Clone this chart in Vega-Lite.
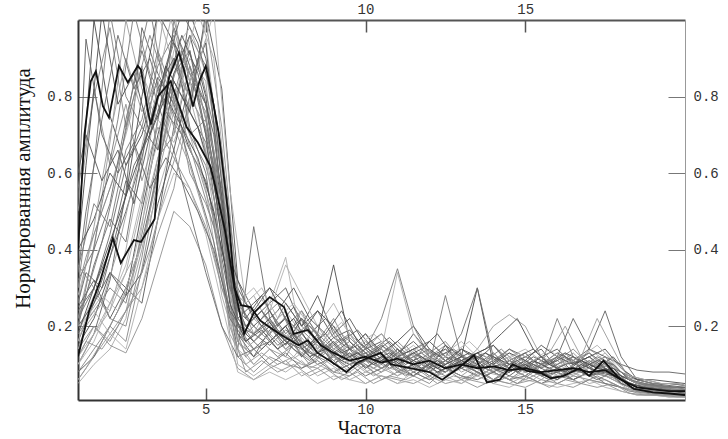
{
"$schema": "https://vega.github.io/schema/vega-lite/v6.json",
"width": 607, "height": 380,
"autosize": {"type": "none"},
"padding": {"left": 78, "top": 20, "right": 43, "bottom": 39},
"background": "white",
"config": {"view": {"stroke": null}},
"datasets": {
"gray": [
{"s":1,"x":1,"y":0.45},{"s":1,"x":1.5,"y":1.0},{"s":1,"x":2,"y":0.75},{"s":1,"x":2.5,"y":0.62},{"s":1,"x":3,"y":0.70},{"s":1,"x":3.5,"y":0.85},{"s":1,"x":4,"y":0.78},{"s":1,"x":4.5,"y":0.66},{"s":1,"x":5,"y":0.58},{"s":1,"x":5.5,"y":0.40},{"s":1,"x":6,"y":0.22},{"s":1,"x":6.5,"y":0.18},{"s":1,"x":7,"y":0.21},{"s":1,"x":7.5,"y":0.16},{"s":1,"x":8,"y":0.14},{"s":1,"x":8.5,"y":0.17},{"s":1,"x":9,"y":0.12},{"s":1,"x":9.5,"y":0.10},{"s":1,"x":10,"y":0.11},{"s":1,"x":10.5,"y":0.09},{"s":1,"x":11,"y":0.12},{"s":1,"x":11.5,"y":0.10},{"s":1,"x":12,"y":0.08},{"s":1,"x":12.5,"y":0.11},{"s":1,"x":13,"y":0.09},{"s":1,"x":13.5,"y":0.07},{"s":1,"x":14,"y":0.09},{"s":1,"x":14.5,"y":0.08},{"s":1,"x":15,"y":0.10},{"s":1,"x":15.5,"y":0.07},{"s":1,"x":16,"y":0.08},{"s":1,"x":16.5,"y":0.09},{"s":1,"x":17,"y":0.07},{"s":1,"x":17.5,"y":0.08},{"s":1,"x":18,"y":0.06},{"s":1,"x":18.5,"y":0.04},{"s":1,"x":19,"y":0.035},{"s":1,"x":19.5,"y":0.03},{"s":1,"x":20,"y":0.03},
{"s":2,"x":1,"y":0.30},{"s":2,"x":1.5,"y":0.62},{"s":2,"x":2,"y":1.02},{"s":2,"x":2.5,"y":0.80},{"s":2,"x":3,"y":0.72},{"s":2,"x":3.5,"y":0.88},{"s":2,"x":4,"y":0.96},{"s":2,"x":4.5,"y":0.70},{"s":2,"x":5,"y":0.62},{"s":2,"x":5.5,"y":0.45},{"s":2,"x":6,"y":0.18},{"s":2,"x":6.5,"y":0.14},{"s":2,"x":7,"y":0.16},{"s":2,"x":7.5,"y":0.12},{"s":2,"x":8,"y":0.19},{"s":2,"x":8.5,"y":0.15},{"s":2,"x":9,"y":0.11},{"s":2,"x":9.5,"y":0.13},{"s":2,"x":10,"y":0.10},{"s":2,"x":10.5,"y":0.08},{"s":2,"x":11,"y":0.12},{"s":2,"x":11.5,"y":0.14},{"s":2,"x":12,"y":0.09},{"s":2,"x":12.5,"y":0.07},{"s":2,"x":13,"y":0.10},{"s":2,"x":13.5,"y":0.12},{"s":2,"x":14,"y":0.08},{"s":2,"x":14.5,"y":0.06},{"s":2,"x":15,"y":0.09},{"s":2,"x":15.5,"y":0.08},{"s":2,"x":16,"y":0.06},{"s":2,"x":16.5,"y":0.10},{"s":2,"x":17,"y":0.12},{"s":2,"x":17.5,"y":0.08},{"s":2,"x":18,"y":0.06},{"s":2,"x":18.5,"y":0.045},{"s":2,"x":19,"y":0.04},{"s":2,"x":19.5,"y":0.035},{"s":2,"x":20,"y":0.03},
{"s":3,"x":1,"y":0.22},{"s":3,"x":1.5,"y":0.40},{"s":3,"x":2,"y":0.68},{"s":3,"x":2.5,"y":1.0},{"s":3,"x":3,"y":0.82},{"s":3,"x":3.5,"y":0.74},{"s":3,"x":4,"y":0.90},{"s":3,"x":4.5,"y":0.80},{"s":3,"x":5,"y":0.72},{"s":3,"x":5.5,"y":0.52},{"s":3,"x":6,"y":0.26},{"s":3,"x":6.5,"y":0.20},{"s":3,"x":7,"y":0.24},{"s":3,"x":7.5,"y":0.17},{"s":3,"x":8,"y":0.15},{"s":3,"x":8.5,"y":0.20},{"s":3,"x":9,"y":0.14},{"s":3,"x":9.5,"y":0.12},{"s":3,"x":10,"y":0.16},{"s":3,"x":10.5,"y":0.11},{"s":3,"x":11,"y":0.09},{"s":3,"x":11.5,"y":0.13},{"s":3,"x":12,"y":0.10},{"s":3,"x":12.5,"y":0.12},{"s":3,"x":13,"y":0.08},{"s":3,"x":13.5,"y":0.10},{"s":3,"x":14,"y":0.13},{"s":3,"x":14.5,"y":0.09},{"s":3,"x":15,"y":0.07},{"s":3,"x":15.5,"y":0.10},{"s":3,"x":16,"y":0.11},{"s":3,"x":16.5,"y":0.08},{"s":3,"x":17,"y":0.09},{"s":3,"x":17.5,"y":0.12},{"s":3,"x":18,"y":0.07},{"s":3,"x":18.5,"y":0.05},{"s":3,"x":19,"y":0.04},{"s":3,"x":19.5,"y":0.04},{"s":3,"x":20,"y":0.035},
{"s":4,"x":1,"y":0.10},{"s":4,"x":1.5,"y":0.18},{"s":4,"x":2,"y":0.32},{"s":4,"x":2.5,"y":0.55},{"s":4,"x":3,"y":0.98},{"s":4,"x":3.5,"y":0.86},{"s":4,"x":4,"y":0.78},{"s":4,"x":4.5,"y":0.92},{"s":4,"x":5,"y":0.70},{"s":4,"x":5.5,"y":0.38},{"s":4,"x":6,"y":0.16},{"s":4,"x":6.5,"y":0.12},{"s":4,"x":7,"y":0.19},{"s":4,"x":7.5,"y":0.22},{"s":4,"x":8,"y":0.14},{"s":4,"x":8.5,"y":0.10},{"s":4,"x":9,"y":0.12},{"s":4,"x":9.5,"y":0.09},{"s":4,"x":10,"y":0.11},{"s":4,"x":10.5,"y":0.13},{"s":4,"x":11,"y":0.09},{"s":4,"x":11.5,"y":0.07},{"s":4,"x":12,"y":0.10},{"s":4,"x":12.5,"y":0.08},{"s":4,"x":13,"y":0.11},{"s":4,"x":13.5,"y":0.09},{"s":4,"x":14,"y":0.06},{"s":4,"x":14.5,"y":0.08},{"s":4,"x":15,"y":0.10},{"s":4,"x":15.5,"y":0.07},{"s":4,"x":16,"y":0.09},{"s":4,"x":16.5,"y":0.06},{"s":4,"x":17,"y":0.08},{"s":4,"x":17.5,"y":0.10},{"s":4,"x":18,"y":0.05},{"s":4,"x":18.5,"y":0.035},{"s":4,"x":19,"y":0.03},{"s":4,"x":19.5,"y":0.025},{"s":4,"x":20,"y":0.02},
{"s":5,"x":1,"y":0.18},{"s":5,"x":1.5,"y":0.28},{"s":5,"x":2,"y":0.24},{"s":5,"x":2.5,"y":0.40},{"s":5,"x":3,"y":0.62},{"s":5,"x":3.5,"y":1.02},{"s":5,"x":4,"y":0.88},{"s":5,"x":4.5,"y":0.80},{"s":5,"x":5,"y":0.95},{"s":5,"x":5.5,"y":0.60},{"s":5,"x":6,"y":0.24},{"s":5,"x":6.5,"y":0.28},{"s":5,"x":7,"y":0.20},{"s":5,"x":7.5,"y":0.24},{"s":5,"x":8,"y":0.18},{"s":5,"x":8.5,"y":0.14},{"s":5,"x":9,"y":0.20},{"s":5,"x":9.5,"y":0.16},{"s":5,"x":10,"y":0.12},{"s":5,"x":10.5,"y":0.15},{"s":5,"x":11,"y":0.11},{"s":5,"x":11.5,"y":0.13},{"s":5,"x":12,"y":0.10},{"s":5,"x":12.5,"y":0.14},{"s":5,"x":13,"y":0.12},{"s":5,"x":13.5,"y":0.09},{"s":5,"x":14,"y":0.11},{"s":5,"x":14.5,"y":0.13},{"s":5,"x":15,"y":0.09},{"s":5,"x":15.5,"y":0.12},{"s":5,"x":16,"y":0.10},{"s":5,"x":16.5,"y":0.08},{"s":5,"x":17,"y":0.14},{"s":5,"x":17.5,"y":0.11},{"s":5,"x":18,"y":0.08},{"s":5,"x":18.5,"y":0.05},{"s":5,"x":19,"y":0.045},{"s":5,"x":19.5,"y":0.04},{"s":5,"x":20,"y":0.04},
{"s":6,"x":1,"y":0.08},{"s":6,"x":1.5,"y":0.14},{"s":6,"x":2,"y":0.20},{"s":6,"x":2.5,"y":0.16},{"s":6,"x":3,"y":0.35},{"s":6,"x":3.5,"y":0.58},{"s":6,"x":4,"y":1.0},{"s":6,"x":4.5,"y":0.84},{"s":6,"x":5,"y":0.76},{"s":6,"x":5.5,"y":0.42},{"s":6,"x":6,"y":0.12},{"s":6,"x":6.5,"y":0.08},{"s":6,"x":7,"y":0.12},{"s":6,"x":7.5,"y":0.10},{"s":6,"x":8,"y":0.09},{"s":6,"x":8.5,"y":0.12},{"s":6,"x":9,"y":0.08},{"s":6,"x":9.5,"y":0.07},{"s":6,"x":10,"y":0.10},{"s":6,"x":10.5,"y":0.06},{"s":6,"x":11,"y":0.08},{"s":6,"x":11.5,"y":0.07},{"s":6,"x":12,"y":0.05},{"s":6,"x":12.5,"y":0.09},{"s":6,"x":13,"y":0.06},{"s":6,"x":13.5,"y":0.08},{"s":6,"x":14,"y":0.05},{"s":6,"x":14.5,"y":0.07},{"s":6,"x":15,"y":0.06},{"s":6,"x":15.5,"y":0.08},{"s":6,"x":16,"y":0.05},{"s":6,"x":16.5,"y":0.07},{"s":6,"x":17,"y":0.06},{"s":6,"x":17.5,"y":0.05},{"s":6,"x":18,"y":0.04},{"s":6,"x":18.5,"y":0.03},{"s":6,"x":19,"y":0.025},{"s":6,"x":19.5,"y":0.02},{"s":6,"x":20,"y":0.02},
{"s":7,"x":1,"y":0.25},{"s":7,"x":1.5,"y":0.32},{"s":7,"x":2,"y":0.22},{"s":7,"x":2.5,"y":0.30},{"s":7,"x":3,"y":0.26},{"s":7,"x":3.5,"y":0.48},{"s":7,"x":4,"y":0.72},{"s":7,"x":4.5,"y":1.02},{"s":7,"x":5,"y":0.90},{"s":7,"x":5.5,"y":0.66},{"s":7,"x":6,"y":0.30},{"s":7,"x":6.5,"y":0.22},{"s":7,"x":7,"y":0.26},{"s":7,"x":7.5,"y":0.30},{"s":7,"x":8,"y":0.20},{"s":7,"x":8.5,"y":0.24},{"s":7,"x":9,"y":0.17},{"s":7,"x":9.5,"y":0.19},{"s":7,"x":10,"y":0.14},{"s":7,"x":10.5,"y":0.16},{"s":7,"x":11,"y":0.12},{"s":7,"x":11.5,"y":0.18},{"s":7,"x":12,"y":0.13},{"s":7,"x":12.5,"y":0.10},{"s":7,"x":13,"y":0.14},{"s":7,"x":13.5,"y":0.11},{"s":7,"x":14,"y":0.15},{"s":7,"x":14.5,"y":0.10},{"s":7,"x":15,"y":0.12},{"s":7,"x":15.5,"y":0.14},{"s":7,"x":16,"y":0.09},{"s":7,"x":16.5,"y":0.11},{"s":7,"x":17,"y":0.13},{"s":7,"x":17.5,"y":0.10},{"s":7,"x":18,"y":0.08},{"s":7,"x":18.5,"y":0.06},{"s":7,"x":19,"y":0.05},{"s":7,"x":19.5,"y":0.05},{"s":7,"x":20,"y":0.045},
{"s":8,"x":1,"y":0.12},{"s":8,"x":1.5,"y":0.20},{"s":8,"x":2,"y":0.16},{"s":8,"x":2.5,"y":0.24},{"s":8,"x":3,"y":0.30},{"s":8,"x":3.5,"y":0.44},{"s":8,"x":4,"y":0.56},{"s":8,"x":4.5,"y":0.78},{"s":8,"x":5,"y":1.0},{"s":8,"x":5.5,"y":0.72},{"s":8,"x":6,"y":0.28},{"s":8,"x":6.5,"y":0.18},{"s":8,"x":7,"y":0.22},{"s":8,"x":7.5,"y":0.16},{"s":8,"x":8,"y":0.24},{"s":8,"x":8.5,"y":0.14},{"s":8,"x":9,"y":0.18},{"s":8,"x":9.5,"y":0.12},{"s":8,"x":10,"y":0.15},{"s":8,"x":10.5,"y":0.10},{"s":8,"x":11,"y":0.14},{"s":8,"x":11.5,"y":0.09},{"s":8,"x":12,"y":0.12},{"s":8,"x":12.5,"y":0.15},{"s":8,"x":13,"y":0.10},{"s":8,"x":13.5,"y":0.08},{"s":8,"x":14,"y":0.12},{"s":8,"x":14.5,"y":0.09},{"s":8,"x":15,"y":0.11},{"s":8,"x":15.5,"y":0.07},{"s":8,"x":16,"y":0.10},{"s":8,"x":16.5,"y":0.13},{"s":8,"x":17,"y":0.09},{"s":8,"x":17.5,"y":0.07},{"s":8,"x":18,"y":0.06},{"s":8,"x":18.5,"y":0.04},{"s":8,"x":19,"y":0.035},{"s":8,"x":19.5,"y":0.03},{"s":8,"x":20,"y":0.03},
{"s":9,"x":1,"y":0.20},{"s":9,"x":1.5,"y":0.36},{"s":9,"x":2,"y":0.48},{"s":9,"x":2.5,"y":0.42},{"s":9,"x":3,"y":0.66},{"s":9,"x":3.5,"y":0.80},{"s":9,"x":4,"y":0.94},{"s":9,"x":4.5,"y":0.72},{"s":9,"x":5,"y":0.60},{"s":9,"x":5.5,"y":0.34},{"s":9,"x":6,"y":0.14},{"s":9,"x":6.5,"y":0.46},{"s":9,"x":7,"y":0.22},{"s":9,"x":7.5,"y":0.16},{"s":9,"x":8,"y":0.12},{"s":9,"x":8.5,"y":0.18},{"s":9,"x":9,"y":0.10},{"s":9,"x":9.5,"y":0.14},{"s":9,"x":10,"y":0.09},{"s":9,"x":10.5,"y":0.12},{"s":9,"x":11,"y":0.08},{"s":9,"x":11.5,"y":0.10},{"s":9,"x":12,"y":0.07},{"s":9,"x":12.5,"y":0.09},{"s":9,"x":13,"y":0.11},{"s":9,"x":13.5,"y":0.08},{"s":9,"x":14,"y":0.06},{"s":9,"x":14.5,"y":0.09},{"s":9,"x":15,"y":0.07},{"s":9,"x":15.5,"y":0.10},{"s":9,"x":16,"y":0.08},{"s":9,"x":16.5,"y":0.06},{"s":9,"x":17,"y":0.08},{"s":9,"x":17.5,"y":0.07},{"s":9,"x":18,"y":0.05},{"s":9,"x":18.5,"y":0.03},{"s":9,"x":19,"y":0.03},{"s":9,"x":19.5,"y":0.025},{"s":9,"x":20,"y":0.025},
{"s":10,"x":1,"y":0.28},{"s":10,"x":1.5,"y":0.44},{"s":10,"x":2,"y":0.56},{"s":10,"x":2.5,"y":0.70},{"s":10,"x":3,"y":0.86},{"s":10,"x":3.5,"y":0.76},{"s":10,"x":4,"y":0.90},{"s":10,"x":4.5,"y":0.84},{"s":10,"x":5,"y":0.66},{"s":10,"x":5.5,"y":0.50},{"s":10,"x":6,"y":0.22},{"s":10,"x":6.5,"y":0.18},{"s":10,"x":7,"y":0.26},{"s":10,"x":7.5,"y":0.38},{"s":10,"x":8,"y":0.16},{"s":10,"x":8.5,"y":0.14},{"s":10,"x":9,"y":0.20},{"s":10,"x":9.5,"y":0.12},{"s":10,"x":10,"y":0.16},{"s":10,"x":10.5,"y":0.14},{"s":10,"x":11,"y":0.34},{"s":10,"x":11.5,"y":0.18},{"s":10,"x":12,"y":0.12},{"s":10,"x":12.5,"y":0.10},{"s":10,"x":13,"y":0.13},{"s":10,"x":13.5,"y":0.09},{"s":10,"x":14,"y":0.12},{"s":10,"x":14.5,"y":0.10},{"s":10,"x":15,"y":0.08},{"s":10,"x":15.5,"y":0.11},{"s":10,"x":16,"y":0.09},{"s":10,"x":16.5,"y":0.12},{"s":10,"x":17,"y":0.08},{"s":10,"x":17.5,"y":0.10},{"s":10,"x":18,"y":0.07},{"s":10,"x":18.5,"y":0.05},{"s":10,"x":19,"y":0.04},{"s":10,"x":19.5,"y":0.04},{"s":10,"x":20,"y":0.035},
{"s":11,"x":1,"y":0.15},{"s":11,"x":1.5,"y":0.22},{"s":11,"x":2,"y":0.34},{"s":11,"x":2.5,"y":0.28},{"s":11,"x":3,"y":0.50},{"s":11,"x":3.5,"y":0.70},{"s":11,"x":4,"y":0.86},{"s":11,"x":4.5,"y":0.96},{"s":11,"x":5,"y":0.80},{"s":11,"x":5.5,"y":0.48},{"s":11,"x":6,"y":0.20},{"s":11,"x":6.5,"y":0.16},{"s":11,"x":7,"y":0.20},{"s":11,"x":7.5,"y":0.15},{"s":11,"x":8,"y":0.22},{"s":11,"x":8.5,"y":0.18},{"s":11,"x":9,"y":0.36},{"s":11,"x":9.5,"y":0.16},{"s":11,"x":10,"y":0.12},{"s":11,"x":10.5,"y":0.10},{"s":11,"x":11,"y":0.14},{"s":11,"x":11.5,"y":0.11},{"s":11,"x":12,"y":0.09},{"s":11,"x":12.5,"y":0.15},{"s":11,"x":13,"y":0.12},{"s":11,"x":13.5,"y":0.30},{"s":11,"x":14,"y":0.10},{"s":11,"x":14.5,"y":0.08},{"s":11,"x":15,"y":0.11},{"s":11,"x":15.5,"y":0.09},{"s":11,"x":16,"y":0.12},{"s":11,"x":16.5,"y":0.08},{"s":11,"x":17,"y":0.10},{"s":11,"x":17.5,"y":0.09},{"s":11,"x":18,"y":0.06},{"s":11,"x":18.5,"y":0.04},{"s":11,"x":19,"y":0.035},{"s":11,"x":19.5,"y":0.03},{"s":11,"x":20,"y":0.03},
{"s":12,"x":1,"y":0.35},{"s":12,"x":1.5,"y":0.52},{"s":12,"x":2,"y":0.46},{"s":12,"x":2.5,"y":0.66},{"s":12,"x":3,"y":0.74},{"s":12,"x":3.5,"y":0.92},{"s":12,"x":4,"y":0.80},{"s":12,"x":4.5,"y":0.70},{"s":12,"x":5,"y":0.74},{"s":12,"x":5.5,"y":0.56},{"s":12,"x":6,"y":0.26},{"s":12,"x":6.5,"y":0.20},{"s":12,"x":7,"y":0.16},{"s":12,"x":7.5,"y":0.20},{"s":12,"x":8,"y":0.14},{"s":12,"x":8.5,"y":0.12},{"s":12,"x":9,"y":0.15},{"s":12,"x":9.5,"y":0.18},{"s":12,"x":10,"y":0.12},{"s":12,"x":10.5,"y":0.09},{"s":12,"x":11,"y":0.12},{"s":12,"x":11.5,"y":0.14},{"s":12,"x":12,"y":0.10},{"s":12,"x":12.5,"y":0.28},{"s":12,"x":13,"y":0.12},{"s":12,"x":13.5,"y":0.10},{"s":12,"x":14,"y":0.13},{"s":12,"x":14.5,"y":0.09},{"s":12,"x":15,"y":0.12},{"s":12,"x":15.5,"y":0.10},{"s":12,"x":16,"y":0.22},{"s":12,"x":16.5,"y":0.12},{"s":12,"x":17,"y":0.09},{"s":12,"x":17.5,"y":0.11},{"s":12,"x":18,"y":0.07},{"s":12,"x":18.5,"y":0.05},{"s":12,"x":19,"y":0.04},{"s":12,"x":19.5,"y":0.035},{"s":12,"x":20,"y":0.03},
{"s":13,"x":1,"y":0.06},{"s":13,"x":1.5,"y":0.12},{"s":13,"x":2,"y":0.18},{"s":13,"x":2.5,"y":0.24},{"s":13,"x":3,"y":0.40},{"s":13,"x":3.5,"y":0.62},{"s":13,"x":4,"y":0.78},{"s":13,"x":4.5,"y":0.90},{"s":13,"x":5,"y":0.84},{"s":13,"x":5.5,"y":0.44},{"s":13,"x":6,"y":0.16},{"s":13,"x":6.5,"y":0.10},{"s":13,"x":7,"y":0.14},{"s":13,"x":7.5,"y":0.12},{"s":13,"x":8,"y":0.10},{"s":13,"x":8.5,"y":0.09},{"s":13,"x":9,"y":0.12},{"s":13,"x":9.5,"y":0.08},{"s":13,"x":10,"y":0.11},{"s":13,"x":10.5,"y":0.09},{"s":13,"x":11,"y":0.07},{"s":13,"x":11.5,"y":0.10},{"s":13,"x":12,"y":0.08},{"s":13,"x":12.5,"y":0.12},{"s":13,"x":13,"y":0.10},{"s":13,"x":13.5,"y":0.14},{"s":13,"x":14,"y":0.20},{"s":13,"x":14.5,"y":0.23},{"s":13,"x":15,"y":0.20},{"s":13,"x":15.5,"y":0.12},{"s":13,"x":16,"y":0.09},{"s":13,"x":16.5,"y":0.11},{"s":13,"x":17,"y":0.08},{"s":13,"x":17.5,"y":0.10},{"s":13,"x":18,"y":0.06},{"s":13,"x":18.5,"y":0.04},{"s":13,"x":19,"y":0.03},{"s":13,"x":19.5,"y":0.03},{"s":13,"x":20,"y":0.025},
{"s":14,"x":1,"y":0.24},{"s":14,"x":1.5,"y":0.30},{"s":14,"x":2,"y":0.40},{"s":14,"x":2.5,"y":0.58},{"s":14,"x":3,"y":0.52},{"s":14,"x":3.5,"y":0.74},{"s":14,"x":4,"y":0.98},{"s":14,"x":4.5,"y":0.88},{"s":14,"x":5,"y":0.70},{"s":14,"x":5.5,"y":0.50},{"s":14,"x":6,"y":0.24},{"s":14,"x":6.5,"y":0.20},{"s":14,"x":7,"y":0.24},{"s":14,"x":7.5,"y":0.18},{"s":14,"x":8,"y":0.22},{"s":14,"x":8.5,"y":0.16},{"s":14,"x":9,"y":0.13},{"s":14,"x":9.5,"y":0.16},{"s":14,"x":10,"y":0.12},{"s":14,"x":10.5,"y":0.14},{"s":14,"x":11,"y":0.10},{"s":14,"x":11.5,"y":0.13},{"s":14,"x":12,"y":0.11},{"s":14,"x":12.5,"y":0.09},{"s":14,"x":13,"y":0.12},{"s":14,"x":13.5,"y":0.10},{"s":14,"x":14,"y":0.08},{"s":14,"x":14.5,"y":0.11},{"s":14,"x":15,"y":0.13},{"s":14,"x":15.5,"y":0.09},{"s":14,"x":16,"y":0.12},{"s":14,"x":16.5,"y":0.22},{"s":14,"x":17,"y":0.14},{"s":14,"x":17.5,"y":0.24},{"s":14,"x":18,"y":0.12},{"s":14,"x":18.5,"y":0.06},{"s":14,"x":19,"y":0.05},{"s":14,"x":19.5,"y":0.045},{"s":14,"x":20,"y":0.04},
{"s":15,"x":1,"y":0.05},{"s":15,"x":1.5,"y":0.10},{"s":15,"x":2,"y":0.14},{"s":15,"x":2.5,"y":0.22},{"s":15,"x":3,"y":0.46},{"s":15,"x":3.5,"y":0.74},{"s":15,"x":4,"y":0.68},{"s":15,"x":4.5,"y":0.80},{"s":15,"x":5,"y":0.64},{"s":15,"x":5.5,"y":0.36},{"s":15,"x":6,"y":0.10},{"s":15,"x":6.5,"y":0.07},{"s":15,"x":7,"y":0.10},{"s":15,"x":7.5,"y":0.08},{"s":15,"x":8,"y":0.11},{"s":15,"x":8.5,"y":0.07},{"s":15,"x":9,"y":0.09},{"s":15,"x":9.5,"y":0.06},{"s":15,"x":10,"y":0.08},{"s":15,"x":10.5,"y":0.07},{"s":15,"x":11,"y":0.05},{"s":15,"x":11.5,"y":0.08},{"s":15,"x":12,"y":0.06},{"s":15,"x":12.5,"y":0.07},{"s":15,"x":13,"y":0.05},{"s":15,"x":13.5,"y":0.08},{"s":15,"x":14,"y":0.06},{"s":15,"x":14.5,"y":0.05},{"s":15,"x":15,"y":0.07},{"s":15,"x":15.5,"y":0.05},{"s":15,"x":16,"y":0.06},{"s":15,"x":16.5,"y":0.08},{"s":15,"x":17,"y":0.05},{"s":15,"x":17.5,"y":0.06},{"s":15,"x":18,"y":0.04},{"s":15,"x":18.5,"y":0.025},{"s":15,"x":19,"y":0.02},{"s":15,"x":19.5,"y":0.02},{"s":15,"x":20,"y":0.015},
{"s":16,"x":1,"y":0.56},{"s":16,"x":1.5,"y":0.80},{"s":16,"x":2,"y":0.98},{"s":16,"x":2.5,"y":0.72},{"s":16,"x":3,"y":0.88},{"s":16,"x":3.5,"y":0.66},{"s":16,"x":4,"y":0.82},{"s":16,"x":4.5,"y":0.60},{"s":16,"x":5,"y":0.52},{"s":16,"x":5.5,"y":0.40},{"s":16,"x":6,"y":0.28},{"s":16,"x":6.5,"y":0.24},{"s":16,"x":7,"y":0.18},{"s":16,"x":7.5,"y":0.26},{"s":16,"x":8,"y":0.20},{"s":16,"x":8.5,"y":0.16},{"s":16,"x":9,"y":0.22},{"s":16,"x":9.5,"y":0.14},{"s":16,"x":10,"y":0.18},{"s":16,"x":10.5,"y":0.12},{"s":16,"x":11,"y":0.16},{"s":16,"x":11.5,"y":0.12},{"s":16,"x":12,"y":0.14},{"s":16,"x":12.5,"y":0.11},{"s":16,"x":13,"y":0.09},{"s":16,"x":13.5,"y":0.12},{"s":16,"x":14,"y":0.10},{"s":16,"x":14.5,"y":0.14},{"s":16,"x":15,"y":0.11},{"s":16,"x":15.5,"y":0.09},{"s":16,"x":16,"y":0.12},{"s":16,"x":16.5,"y":0.10},{"s":16,"x":17,"y":0.13},{"s":16,"x":17.5,"y":0.09},{"s":16,"x":18,"y":0.07},{"s":16,"x":18.5,"y":0.06},{"s":16,"x":19,"y":0.05},{"s":16,"x":19.5,"y":0.05},{"s":16,"x":20,"y":0.045},
{"s":17,"x":1,"y":0.20},{"s":17,"x":1.5,"y":0.26},{"s":17,"x":2,"y":0.34},{"s":17,"x":2.5,"y":0.30},{"s":17,"x":3,"y":0.42},{"s":17,"x":3.5,"y":0.60},{"s":17,"x":4,"y":0.84},{"s":17,"x":4.5,"y":0.76},{"s":17,"x":5,"y":1.02},{"s":17,"x":5.5,"y":0.82},{"s":17,"x":6,"y":0.32},{"s":17,"x":6.5,"y":0.24},{"s":17,"x":7,"y":0.30},{"s":17,"x":7.5,"y":0.26},{"s":17,"x":8,"y":0.20},{"s":17,"x":8.5,"y":0.28},{"s":17,"x":9,"y":0.18},{"s":17,"x":9.5,"y":0.22},{"s":17,"x":10,"y":0.15},{"s":17,"x":10.5,"y":0.18},{"s":17,"x":11,"y":0.13},{"s":17,"x":11.5,"y":0.16},{"s":17,"x":12,"y":0.12},{"s":17,"x":12.5,"y":0.14},{"s":17,"x":13,"y":0.10},{"s":17,"x":13.5,"y":0.13},{"s":17,"x":14,"y":0.15},{"s":17,"x":14.5,"y":0.11},{"s":17,"x":15,"y":0.09},{"s":17,"x":15.5,"y":0.12},{"s":17,"x":16,"y":0.14},{"s":17,"x":16.5,"y":0.10},{"s":17,"x":17,"y":0.12},{"s":17,"x":17.5,"y":0.09},{"s":17,"x":18,"y":0.07},{"s":17,"x":18.5,"y":0.05},{"s":17,"x":19,"y":0.045},{"s":17,"x":19.5,"y":0.04},{"s":17,"x":20,"y":0.04},
{"s":18,"x":1,"y":0.14},{"s":18,"x":1.5,"y":0.20},{"s":18,"x":2,"y":0.15},{"s":18,"x":2.5,"y":0.13},{"s":18,"x":3,"y":0.22},{"s":18,"x":3.5,"y":0.36},{"s":18,"x":4,"y":0.50},{"s":18,"x":4.5,"y":0.46},{"s":18,"x":5,"y":0.36},{"s":18,"x":5.5,"y":0.20},{"s":18,"x":6,"y":0.09},{"s":18,"x":6.5,"y":0.06},{"s":18,"x":7,"y":0.09},{"s":18,"x":7.5,"y":0.11},{"s":18,"x":8,"y":0.07},{"s":18,"x":8.5,"y":0.09},{"s":18,"x":9,"y":0.06},{"s":18,"x":9.5,"y":0.08},{"s":18,"x":10,"y":0.05},{"s":18,"x":10.5,"y":0.07},{"s":18,"x":11,"y":0.06},{"s":18,"x":11.5,"y":0.05},{"s":18,"x":12,"y":0.07},{"s":18,"x":12.5,"y":0.05},{"s":18,"x":13,"y":0.06},{"s":18,"x":13.5,"y":0.04},{"s":18,"x":14,"y":0.06},{"s":18,"x":14.5,"y":0.05},{"s":18,"x":15,"y":0.04},{"s":18,"x":15.5,"y":0.06},{"s":18,"x":16,"y":0.05},{"s":18,"x":16.5,"y":0.04},{"s":18,"x":17,"y":0.06},{"s":18,"x":17.5,"y":0.05},{"s":18,"x":18,"y":0.03},{"s":18,"x":18.5,"y":0.02},{"s":18,"x":19,"y":0.02},{"s":18,"x":19.5,"y":0.015},{"s":18,"x":20,"y":0.015},
{"s":19,"x":1,"y":0.32},{"s":19,"x":1.5,"y":0.40},{"s":19,"x":2,"y":0.52},{"s":19,"x":2.5,"y":0.74},{"s":19,"x":3,"y":0.92},{"s":19,"x":3.5,"y":0.78},{"s":19,"x":4,"y":0.66},{"s":19,"x":4.5,"y":0.50},{"s":19,"x":5,"y":0.34},{"s":19,"x":5.5,"y":0.20},{"s":19,"x":6,"y":0.12},{"s":19,"x":6.5,"y":0.14},{"s":19,"x":7,"y":0.10},{"s":19,"x":7.5,"y":0.13},{"s":19,"x":8,"y":0.09},{"s":19,"x":8.5,"y":0.11},{"s":19,"x":9,"y":0.08},{"s":19,"x":9.5,"y":0.10},{"s":19,"x":10,"y":0.07},{"s":19,"x":10.5,"y":0.09},{"s":19,"x":11,"y":0.11},{"s":19,"x":11.5,"y":0.08},{"s":19,"x":12,"y":0.06},{"s":19,"x":12.5,"y":0.09},{"s":19,"x":13,"y":0.07},{"s":19,"x":13.5,"y":0.06},{"s":19,"x":14,"y":0.08},{"s":19,"x":14.5,"y":0.06},{"s":19,"x":15,"y":0.07},{"s":19,"x":15.5,"y":0.05},{"s":19,"x":16,"y":0.07},{"s":19,"x":16.5,"y":0.06},{"s":19,"x":17,"y":0.08},{"s":19,"x":17.5,"y":0.05},{"s":19,"x":18,"y":0.04},{"s":19,"x":18.5,"y":0.03},{"s":19,"x":19,"y":0.025},{"s":19,"x":19.5,"y":0.025},{"s":19,"x":20,"y":0.02},
{"s":20,"x":1,"y":0.10},{"s":20,"x":1.5,"y":0.16},{"s":20,"x":2,"y":0.26},{"s":20,"x":2.5,"y":0.36},{"s":20,"x":3,"y":0.54},{"s":20,"x":3.5,"y":0.68},{"s":20,"x":4,"y":0.92},{"s":20,"x":4.5,"y":0.98},{"s":20,"x":5,"y":0.86},{"s":20,"x":5.5,"y":0.62},{"s":20,"x":6,"y":0.26},{"s":20,"x":6.5,"y":0.30},{"s":20,"x":7,"y":0.24},{"s":20,"x":7.5,"y":0.36},{"s":20,"x":8,"y":0.28},{"s":20,"x":8.5,"y":0.20},{"s":20,"x":9,"y":0.26},{"s":20,"x":9.5,"y":0.18},{"s":20,"x":10,"y":0.14},{"s":20,"x":10.5,"y":0.18},{"s":20,"x":11,"y":0.12},{"s":20,"x":11.5,"y":0.15},{"s":20,"x":12,"y":0.11},{"s":20,"x":12.5,"y":0.13},{"s":20,"x":13,"y":0.16},{"s":20,"x":13.5,"y":0.12},{"s":20,"x":14,"y":0.10},{"s":20,"x":14.5,"y":0.12},{"s":20,"x":15,"y":0.14},{"s":20,"x":15.5,"y":0.11},{"s":20,"x":16,"y":0.09},{"s":20,"x":16.5,"y":0.12},{"s":20,"x":17,"y":0.10},{"s":20,"x":17.5,"y":0.13},{"s":20,"x":18,"y":0.08},{"s":20,"x":18.5,"y":0.05},{"s":20,"x":19,"y":0.04},{"s":20,"x":19.5,"y":0.04},{"s":20,"x":20,"y":0.035},
{"s":21,"x":1,"y":0.40},{"s":21,"x":1.5,"y":0.48},{"s":21,"x":2,"y":0.60},{"s":21,"x":2.5,"y":0.54},{"s":21,"x":3,"y":0.80},{"s":21,"x":3.5,"y":1.02},{"s":21,"x":4,"y":0.94},{"s":21,"x":4.5,"y":0.86},{"s":21,"x":5,"y":0.78},{"s":21,"x":5.5,"y":0.52},{"s":21,"x":6,"y":0.22},{"s":21,"x":6.5,"y":0.26},{"s":21,"x":7,"y":0.30},{"s":21,"x":7.5,"y":0.22},{"s":21,"x":8,"y":0.18},{"s":21,"x":8.5,"y":0.24},{"s":21,"x":9,"y":0.20},{"s":21,"x":9.5,"y":0.14},{"s":21,"x":10,"y":0.18},{"s":21,"x":10.5,"y":0.13},{"s":21,"x":11,"y":0.16},{"s":21,"x":11.5,"y":0.20},{"s":21,"x":12,"y":0.14},{"s":21,"x":12.5,"y":0.11},{"s":21,"x":13,"y":0.14},{"s":21,"x":13.5,"y":0.12},{"s":21,"x":14,"y":0.10},{"s":21,"x":14.5,"y":0.13},{"s":21,"x":15,"y":0.11},{"s":21,"x":15.5,"y":0.15},{"s":21,"x":16,"y":0.12},{"s":21,"x":16.5,"y":0.10},{"s":21,"x":17,"y":0.12},{"s":21,"x":17.5,"y":0.14},{"s":21,"x":18,"y":0.09},{"s":21,"x":18.5,"y":0.06},{"s":21,"x":19,"y":0.06},{"s":21,"x":19.5,"y":0.055},{"s":21,"x":20,"y":0.05},
{"s":22,"x":1,"y":0.18},{"s":22,"x":1.5,"y":0.24},{"s":22,"x":2,"y":0.30},{"s":22,"x":2.5,"y":0.26},{"s":22,"x":3,"y":0.44},{"s":22,"x":3.5,"y":0.64},{"s":22,"x":4,"y":0.70},{"s":22,"x":4.5,"y":0.88},{"s":22,"x":5,"y":0.78},{"s":22,"x":5.5,"y":0.54},{"s":22,"x":6,"y":0.22},{"s":22,"x":6.5,"y":0.16},{"s":22,"x":7,"y":0.20},{"s":22,"x":7.5,"y":0.14},{"s":22,"x":8,"y":0.18},{"s":22,"x":8.5,"y":0.13},{"s":22,"x":9,"y":0.16},{"s":22,"x":9.5,"y":0.12},{"s":22,"x":10,"y":0.14},{"s":22,"x":10.5,"y":0.22},{"s":22,"x":11,"y":0.35},{"s":22,"x":11.5,"y":0.20},{"s":22,"x":12,"y":0.12},{"s":22,"x":12.5,"y":0.10},{"s":22,"x":13,"y":0.12},{"s":22,"x":13.5,"y":0.09},{"s":22,"x":14,"y":0.11},{"s":22,"x":14.5,"y":0.08},{"s":22,"x":15,"y":0.10},{"s":22,"x":15.5,"y":0.12},{"s":22,"x":16,"y":0.09},{"s":22,"x":16.5,"y":0.08},{"s":22,"x":17,"y":0.11},{"s":22,"x":17.5,"y":0.09},{"s":22,"x":18,"y":0.06},{"s":22,"x":18.5,"y":0.04},{"s":22,"x":19,"y":0.035},{"s":22,"x":19.5,"y":0.03},{"s":22,"x":20,"y":0.03},
{"s":23,"x":1,"y":0.26},{"s":23,"x":1.5,"y":0.46},{"s":23,"x":2,"y":0.70},{"s":23,"x":2.5,"y":0.90},{"s":23,"x":3,"y":0.76},{"s":23,"x":3.5,"y":0.84},{"s":23,"x":4,"y":0.72},{"s":23,"x":4.5,"y":0.62},{"s":23,"x":5,"y":0.48},{"s":23,"x":5.5,"y":0.30},{"s":23,"x":6,"y":0.16},{"s":23,"x":6.5,"y":0.22},{"s":23,"x":7,"y":0.18},{"s":23,"x":7.5,"y":0.14},{"s":23,"x":8,"y":0.17},{"s":23,"x":8.5,"y":0.12},{"s":23,"x":9,"y":0.15},{"s":23,"x":9.5,"y":0.10},{"s":23,"x":10,"y":0.13},{"s":23,"x":10.5,"y":0.09},{"s":23,"x":11,"y":0.11},{"s":23,"x":11.5,"y":0.08},{"s":23,"x":12,"y":0.12},{"s":23,"x":12.5,"y":0.09},{"s":23,"x":13,"y":0.07},{"s":23,"x":13.5,"y":0.10},{"s":23,"x":14,"y":0.08},{"s":23,"x":14.5,"y":0.11},{"s":23,"x":15,"y":0.08},{"s":23,"x":15.5,"y":0.06},{"s":23,"x":16,"y":0.09},{"s":23,"x":16.5,"y":0.07},{"s":23,"x":17,"y":0.10},{"s":23,"x":17.5,"y":0.08},{"s":23,"x":18,"y":0.05},{"s":23,"x":18.5,"y":0.035},{"s":23,"x":19,"y":0.03},{"s":23,"x":19.5,"y":0.03},{"s":23,"x":20,"y":0.025},
{"s":24,"x":1,"y":0.16},{"s":24,"x":1.5,"y":0.26},{"s":24,"x":2,"y":0.38},{"s":24,"x":2.5,"y":0.50},{"s":24,"x":3,"y":0.64},{"s":24,"x":3.5,"y":0.82},{"s":24,"x":4,"y":0.90},{"s":24,"x":4.5,"y":0.76},{"s":24,"x":5,"y":0.68},{"s":24,"x":5.5,"y":0.46},{"s":24,"x":6,"y":0.20},{"s":24,"x":6.5,"y":0.18},{"s":24,"x":7,"y":0.15},{"s":24,"x":7.5,"y":0.19},{"s":24,"x":8,"y":0.16},{"s":24,"x":8.5,"y":0.13},{"s":24,"x":9,"y":0.17},{"s":24,"x":9.5,"y":0.14},{"s":24,"x":10,"y":0.12},{"s":24,"x":10.5,"y":0.15},{"s":24,"x":11,"y":0.12},{"s":24,"x":11.5,"y":0.14},{"s":24,"x":12,"y":0.16},{"s":24,"x":12.5,"y":0.12},{"s":24,"x":13,"y":0.10},{"s":24,"x":13.5,"y":0.13},{"s":24,"x":14,"y":0.11},{"s":24,"x":14.5,"y":0.14},{"s":24,"x":15,"y":0.12},{"s":24,"x":15.5,"y":0.10},{"s":24,"x":16,"y":0.13},{"s":24,"x":16.5,"y":0.11},{"s":24,"x":17,"y":0.14},{"s":24,"x":17.5,"y":0.12},{"s":24,"x":18,"y":0.10},{"s":24,"x":18.5,"y":0.085},{"s":24,"x":19,"y":0.08},{"s":24,"x":19.5,"y":0.08},{"s":24,"x":20,"y":0.075},
{"s":25,"x":1,"y":0.12},{"s":25,"x":1.5,"y":0.18},{"s":25,"x":2,"y":0.24},{"s":25,"x":2.5,"y":0.34},{"s":25,"x":3,"y":0.52},{"s":25,"x":3.5,"y":0.84},{"s":25,"x":4,"y":1.04},{"s":25,"x":4.5,"y":0.70},{"s":25,"x":5,"y":0.56},{"s":25,"x":5.5,"y":0.28},{"s":25,"x":6,"y":0.14},{"s":25,"x":6.5,"y":0.10},{"s":25,"x":7,"y":0.14},{"s":25,"x":7.5,"y":0.10},{"s":25,"x":8,"y":0.13},{"s":25,"x":8.5,"y":0.10},{"s":25,"x":9,"y":0.08},{"s":25,"x":9.5,"y":0.11},{"s":25,"x":10,"y":0.08},{"s":25,"x":10.5,"y":0.10},{"s":25,"x":11,"y":0.07},{"s":25,"x":11.5,"y":0.09},{"s":25,"x":12,"y":0.11},{"s":25,"x":12.5,"y":0.08},{"s":25,"x":13,"y":0.10},{"s":25,"x":13.5,"y":0.07},{"s":25,"x":14,"y":0.09},{"s":25,"x":14.5,"y":0.06},{"s":25,"x":15,"y":0.08},{"s":25,"x":15.5,"y":0.10},{"s":25,"x":16,"y":0.07},{"s":25,"x":16.5,"y":0.09},{"s":25,"x":17,"y":0.07},{"s":25,"x":17.5,"y":0.06},{"s":25,"x":18,"y":0.04},{"s":25,"x":18.5,"y":0.03},{"s":25,"x":19,"y":0.03},{"s":25,"x":19.5,"y":0.025},{"s":25,"x":20,"y":0.02},
{"s":26,"x":1,"y":0.36},{"s":26,"x":1.5,"y":0.30},{"s":26,"x":2,"y":0.22},{"s":26,"x":2.5,"y":0.20},{"s":26,"x":3,"y":0.38},{"s":26,"x":3.5,"y":0.62},{"s":26,"x":4,"y":0.80},{"s":26,"x":4.5,"y":0.96},{"s":26,"x":5,"y":0.88},{"s":26,"x":5.5,"y":0.58},{"s":26,"x":6,"y":0.24},{"s":26,"x":6.5,"y":0.20},{"s":26,"x":7,"y":0.16},{"s":26,"x":7.5,"y":0.20},{"s":26,"x":8,"y":0.24},{"s":26,"x":8.5,"y":0.18},{"s":26,"x":9,"y":0.14},{"s":26,"x":9.5,"y":0.17},{"s":26,"x":10,"y":0.13},{"s":26,"x":10.5,"y":0.11},{"s":26,"x":11,"y":0.14},{"s":26,"x":11.5,"y":0.10},{"s":26,"x":12,"y":0.13},{"s":26,"x":12.5,"y":0.16},{"s":26,"x":13,"y":0.11},{"s":26,"x":13.5,"y":0.09},{"s":26,"x":14,"y":0.12},{"s":26,"x":14.5,"y":0.10},{"s":26,"x":15,"y":0.13},{"s":26,"x":15.5,"y":0.09},{"s":26,"x":16,"y":0.11},{"s":26,"x":16.5,"y":0.14},{"s":26,"x":17,"y":0.10},{"s":26,"x":17.5,"y":0.12},{"s":26,"x":18,"y":0.08},{"s":26,"x":18.5,"y":0.05},{"s":26,"x":19,"y":0.045},{"s":26,"x":19.5,"y":0.04},{"s":26,"x":20,"y":0.04},
{"s":27,"x":1,"y":0.08},{"s":27,"x":1.5,"y":0.12},{"s":27,"x":2,"y":0.20},{"s":27,"x":2.5,"y":0.28},{"s":27,"x":3,"y":0.34},{"s":27,"x":3.5,"y":0.52},{"s":27,"x":4,"y":0.66},{"s":27,"x":4.5,"y":0.84},{"s":27,"x":5,"y":0.94},{"s":27,"x":5.5,"y":0.52},{"s":27,"x":6,"y":0.18},{"s":27,"x":6.5,"y":0.12},{"s":27,"x":7,"y":0.16},{"s":27,"x":7.5,"y":0.20},{"s":27,"x":8,"y":0.12},{"s":27,"x":8.5,"y":0.16},{"s":27,"x":9,"y":0.10},{"s":27,"x":9.5,"y":0.13},{"s":27,"x":10,"y":0.09},{"s":27,"x":10.5,"y":0.12},{"s":27,"x":11,"y":0.10},{"s":27,"x":11.5,"y":0.07},{"s":27,"x":12,"y":0.10},{"s":27,"x":12.5,"y":0.08},{"s":27,"x":13,"y":0.11},{"s":27,"x":13.5,"y":0.13},{"s":27,"x":14,"y":0.09},{"s":27,"x":14.5,"y":0.07},{"s":27,"x":15,"y":0.10},{"s":27,"x":15.5,"y":0.08},{"s":27,"x":16,"y":0.06},{"s":27,"x":16.5,"y":0.09},{"s":27,"x":17,"y":0.07},{"s":27,"x":17.5,"y":0.09},{"s":27,"x":18,"y":0.05},{"s":27,"x":18.5,"y":0.035},{"s":27,"x":19,"y":0.03},{"s":27,"x":19.5,"y":0.03},{"s":27,"x":20,"y":0.025},
{"s":28,"x":1,"y":0.50},{"s":28,"x":1.5,"y":0.82},{"s":28,"x":2,"y":0.62},{"s":28,"x":2.5,"y":0.78},{"s":28,"x":3,"y":0.58},{"s":28,"x":3.5,"y":0.72},{"s":28,"x":4,"y":0.64},{"s":28,"x":4.5,"y":0.56},{"s":28,"x":5,"y":0.46},{"s":28,"x":5.5,"y":0.30},{"s":28,"x":6,"y":0.20},{"s":28,"x":6.5,"y":0.16},{"s":28,"x":7,"y":0.21},{"s":28,"x":7.5,"y":0.17},{"s":28,"x":8,"y":0.13},{"s":28,"x":8.5,"y":0.16},{"s":28,"x":9,"y":0.12},{"s":28,"x":9.5,"y":0.15},{"s":28,"x":10,"y":0.11},{"s":28,"x":10.5,"y":0.14},{"s":28,"x":11,"y":0.10},{"s":28,"x":11.5,"y":0.12},{"s":28,"x":12,"y":0.09},{"s":28,"x":12.5,"y":0.13},{"s":28,"x":13,"y":0.10},{"s":28,"x":13.5,"y":0.12},{"s":28,"x":14,"y":0.09},{"s":28,"x":14.5,"y":0.11},{"s":28,"x":15,"y":0.08},{"s":28,"x":15.5,"y":0.10},{"s":28,"x":16,"y":0.13},{"s":28,"x":16.5,"y":0.09},{"s":28,"x":17,"y":0.11},{"s":28,"x":17.5,"y":0.08},{"s":28,"x":18,"y":0.06},{"s":28,"x":18.5,"y":0.045},{"s":28,"x":19,"y":0.04},{"s":28,"x":19.5,"y":0.035},{"s":28,"x":20,"y":0.035},
{"s":29,"x":1,"y":0.22},{"s":29,"x":1.5,"y":0.30},{"s":29,"x":2,"y":0.44},{"s":29,"x":2.5,"y":0.62},{"s":29,"x":3,"y":0.72},{"s":29,"x":3.5,"y":0.66},{"s":29,"x":4,"y":0.86},{"s":29,"x":4.5,"y":0.92},{"s":29,"x":5,"y":0.74},{"s":29,"x":5.5,"y":0.48},{"s":29,"x":6,"y":0.20},{"s":29,"x":6.5,"y":0.14},{"s":29,"x":7,"y":0.18},{"s":29,"x":7.5,"y":0.22},{"s":29,"x":8,"y":0.15},{"s":29,"x":8.5,"y":0.12},{"s":29,"x":9,"y":0.16},{"s":29,"x":9.5,"y":0.11},{"s":29,"x":10,"y":0.14},{"s":29,"x":10.5,"y":0.10},{"s":29,"x":11,"y":0.13},{"s":29,"x":11.5,"y":0.11},{"s":29,"x":12,"y":0.16},{"s":29,"x":12.5,"y":0.12},{"s":29,"x":13,"y":0.18},{"s":29,"x":13.5,"y":0.30},{"s":29,"x":14,"y":0.12},{"s":29,"x":14.5,"y":0.09},{"s":29,"x":15,"y":0.11},{"s":29,"x":15.5,"y":0.08},{"s":29,"x":16,"y":0.10},{"s":29,"x":16.5,"y":0.12},{"s":29,"x":17,"y":0.09},{"s":29,"x":17.5,"y":0.08},{"s":29,"x":18,"y":0.06},{"s":29,"x":18.5,"y":0.04},{"s":29,"x":19,"y":0.035},{"s":29,"x":19.5,"y":0.03},{"s":29,"x":20,"y":0.03},
{"s":30,"x":1,"y":0.20},{"s":30,"x":1.5,"y":0.24},{"s":30,"x":2,"y":0.18},{"s":30,"x":2.5,"y":0.14},{"s":30,"x":3,"y":0.30},{"s":30,"x":3.5,"y":0.48},{"s":30,"x":4,"y":0.60},{"s":30,"x":4.5,"y":0.56},{"s":30,"x":5,"y":0.44},{"s":30,"x":5.5,"y":0.26},{"s":30,"x":6,"y":0.08},{"s":30,"x":6.5,"y":0.06},{"s":30,"x":7,"y":0.08},{"s":30,"x":7.5,"y":0.06},{"s":30,"x":8,"y":0.08},{"s":30,"x":8.5,"y":0.05},{"s":30,"x":9,"y":0.07},{"s":30,"x":9.5,"y":0.06},{"s":30,"x":10,"y":0.05},{"s":30,"x":10.5,"y":0.07},{"s":30,"x":11,"y":0.05},{"s":30,"x":11.5,"y":0.06},{"s":30,"x":12,"y":0.04},{"s":30,"x":12.5,"y":0.06},{"s":30,"x":13,"y":0.05},{"s":30,"x":13.5,"y":0.07},{"s":30,"x":14,"y":0.05},{"s":30,"x":14.5,"y":0.04},{"s":30,"x":15,"y":0.06},{"s":30,"x":15.5,"y":0.05},{"s":30,"x":16,"y":0.04},{"s":30,"x":16.5,"y":0.05},{"s":30,"x":17,"y":0.06},{"s":30,"x":17.5,"y":0.04},{"s":30,"x":18,"y":0.03},{"s":30,"x":18.5,"y":0.02},{"s":30,"x":19,"y":0.02},{"s":30,"x":19.5,"y":0.015},{"s":30,"x":20,"y":0.015},
{"s":31,"x":1,"y":0.40},{"s":31,"x":1.25,"y":0.62},{"s":31,"x":1.75,"y":1.02},{"s":31,"x":2.25,"y":0.78},{"s":31,"x":2.75,"y":0.86},{"s":31,"x":3.25,"y":0.70},{"s":31,"x":3.75,"y":0.80},{"s":31,"x":4.25,"y":0.72},{"s":31,"x":4.75,"y":0.64},{"s":31,"x":5.25,"y":0.50},{"s":31,"x":5.75,"y":0.30},{"s":31,"x":6.25,"y":0.20},{"s":31,"x":6.75,"y":0.24},{"s":31,"x":7.25,"y":0.18},{"s":31,"x":7.75,"y":0.22},{"s":31,"x":8.25,"y":0.15},{"s":31,"x":8.75,"y":0.18},{"s":31,"x":9.25,"y":0.13},{"s":31,"x":9.75,"y":0.15},{"s":31,"x":10.25,"y":0.11},{"s":31,"x":10.75,"y":0.13},{"s":31,"x":11.25,"y":0.10},{"s":31,"x":11.75,"y":0.12},{"s":31,"x":12.25,"y":0.09},{"s":31,"x":12.75,"y":0.11},{"s":31,"x":13.25,"y":0.13},{"s":31,"x":13.75,"y":0.09},{"s":31,"x":14.25,"y":0.10},{"s":31,"x":14.75,"y":0.08},{"s":31,"x":15.25,"y":0.11},{"s":31,"x":15.75,"y":0.09},{"s":31,"x":16.25,"y":0.07},{"s":31,"x":16.75,"y":0.10},{"s":31,"x":17.25,"y":0.08},{"s":31,"x":17.75,"y":0.09},{"s":31,"x":18.25,"y":0.05},{"s":31,"x":18.75,"y":0.04},{"s":31,"x":19.25,"y":0.035},{"s":31,"x":19.75,"y":0.03},{"s":31,"x":20,"y":0.03},
{"s":32,"x":1,"y":0.20},{"s":32,"x":1.25,"y":0.30},{"s":32,"x":1.75,"y":0.52},{"s":32,"x":2.25,"y":0.74},{"s":32,"x":2.75,"y":1.02},{"s":32,"x":3.25,"y":0.86},{"s":32,"x":3.75,"y":0.78},{"s":32,"x":4.25,"y":0.92},{"s":32,"x":4.75,"y":0.80},{"s":32,"x":5.25,"y":0.62},{"s":32,"x":5.75,"y":0.34},{"s":32,"x":6.25,"y":0.18},{"s":32,"x":6.75,"y":0.22},{"s":32,"x":7.25,"y":0.26},{"s":32,"x":7.75,"y":0.17},{"s":32,"x":8.25,"y":0.21},{"s":32,"x":8.75,"y":0.14},{"s":32,"x":9.25,"y":0.17},{"s":32,"x":9.75,"y":0.12},{"s":32,"x":10.25,"y":0.14},{"s":32,"x":10.75,"y":0.11},{"s":32,"x":11.25,"y":0.15},{"s":32,"x":11.75,"y":0.10},{"s":32,"x":12.25,"y":0.13},{"s":32,"x":12.75,"y":0.09},{"s":32,"x":13.25,"y":0.12},{"s":32,"x":13.75,"y":0.10},{"s":32,"x":14.25,"y":0.08},{"s":32,"x":14.75,"y":0.12},{"s":32,"x":15.25,"y":0.09},{"s":32,"x":15.75,"y":0.11},{"s":32,"x":16.25,"y":0.08},{"s":32,"x":16.75,"y":0.12},{"s":32,"x":17.25,"y":0.09},{"s":32,"x":17.75,"y":0.10},{"s":32,"x":18.25,"y":0.06},{"s":32,"x":18.75,"y":0.045},{"s":32,"x":19.25,"y":0.04},{"s":32,"x":19.75,"y":0.035},{"s":32,"x":20,"y":0.035},
{"s":33,"x":1,"y":0.14},{"s":33,"x":1.25,"y":0.20},{"s":33,"x":1.75,"y":0.26},{"s":33,"x":2.25,"y":0.40},{"s":33,"x":2.75,"y":0.58},{"s":33,"x":3.25,"y":0.76},{"s":33,"x":3.75,"y":1.05},{"s":33,"x":4.25,"y":0.90},{"s":33,"x":4.75,"y":0.82},{"s":33,"x":5.25,"y":0.66},{"s":33,"x":5.75,"y":0.28},{"s":33,"x":6.25,"y":0.14},{"s":33,"x":6.75,"y":0.18},{"s":33,"x":7.25,"y":0.14},{"s":33,"x":7.75,"y":0.20},{"s":33,"x":8.25,"y":0.12},{"s":33,"x":8.75,"y":0.15},{"s":33,"x":9.25,"y":0.10},{"s":33,"x":9.75,"y":0.13},{"s":33,"x":10.25,"y":0.09},{"s":33,"x":10.75,"y":0.12},{"s":33,"x":11.25,"y":0.08},{"s":33,"x":11.75,"y":0.10},{"s":33,"x":12.25,"y":0.07},{"s":33,"x":12.75,"y":0.11},{"s":33,"x":13.25,"y":0.09},{"s":33,"x":13.75,"y":0.07},{"s":33,"x":14.25,"y":0.10},{"s":33,"x":14.75,"y":0.08},{"s":33,"x":15.25,"y":0.06},{"s":33,"x":15.75,"y":0.09},{"s":33,"x":16.25,"y":0.07},{"s":33,"x":16.75,"y":0.08},{"s":33,"x":17.25,"y":0.10},{"s":33,"x":17.75,"y":0.07},{"s":33,"x":18.25,"y":0.04},{"s":33,"x":18.75,"y":0.03},{"s":33,"x":19.25,"y":0.03},{"s":33,"x":19.75,"y":0.025},{"s":33,"x":20,"y":0.02},
{"s":34,"x":1,"y":0.26},{"s":34,"x":1.25,"y":0.34},{"s":34,"x":1.75,"y":0.30},{"s":34,"x":2.25,"y":0.46},{"s":34,"x":2.75,"y":0.62},{"s":34,"x":3.25,"y":0.70},{"s":34,"x":3.75,"y":0.88},{"s":34,"x":4.25,"y":1.02},{"s":34,"x":4.75,"y":0.94},{"s":34,"x":5.25,"y":0.78},{"s":34,"x":5.75,"y":0.36},{"s":34,"x":6.25,"y":0.22},{"s":34,"x":6.75,"y":0.28},{"s":34,"x":7.25,"y":0.20},{"s":34,"x":7.75,"y":0.25},{"s":34,"x":8.25,"y":0.18},{"s":34,"x":8.75,"y":0.22},{"s":34,"x":9.25,"y":0.16},{"s":34,"x":9.75,"y":0.19},{"s":34,"x":10.25,"y":0.14},{"s":34,"x":10.75,"y":0.17},{"s":34,"x":11.25,"y":0.13},{"s":34,"x":11.75,"y":0.15},{"s":34,"x":12.25,"y":0.12},{"s":34,"x":12.75,"y":0.14},{"s":34,"x":13.25,"y":0.11},{"s":34,"x":13.75,"y":0.13},{"s":34,"x":14.25,"y":0.10},{"s":34,"x":14.75,"y":0.12},{"s":34,"x":15.25,"y":0.14},{"s":34,"x":15.75,"y":0.10},{"s":34,"x":16.25,"y":0.12},{"s":34,"x":16.75,"y":0.09},{"s":34,"x":17.25,"y":0.11},{"s":34,"x":17.75,"y":0.10},{"s":34,"x":18.25,"y":0.06},{"s":34,"x":18.75,"y":0.05},{"s":34,"x":19.25,"y":0.045},{"s":34,"x":19.75,"y":0.04},{"s":34,"x":20,"y":0.04},
{"s":35,"x":1,"y":0.10},{"s":35,"x":1.25,"y":0.14},{"s":35,"x":1.75,"y":0.22},{"s":35,"x":2.25,"y":0.30},{"s":35,"x":2.75,"y":0.38},{"s":35,"x":3.25,"y":0.56},{"s":35,"x":3.75,"y":0.72},{"s":35,"x":4.25,"y":0.86},{"s":35,"x":4.75,"y":1.02},{"s":35,"x":5.25,"y":0.90},{"s":35,"x":5.75,"y":0.44},{"s":35,"x":6.25,"y":0.16},{"s":35,"x":6.75,"y":0.20},{"s":35,"x":7.25,"y":0.16},{"s":35,"x":7.75,"y":0.12},{"s":35,"x":8.25,"y":0.17},{"s":35,"x":8.75,"y":0.13},{"s":35,"x":9.25,"y":0.11},{"s":35,"x":9.75,"y":0.14},{"s":35,"x":10.25,"y":0.10},{"s":35,"x":10.75,"y":0.12},{"s":35,"x":11.25,"y":0.09},{"s":35,"x":11.75,"y":0.11},{"s":35,"x":12.25,"y":0.08},{"s":35,"x":12.75,"y":0.10},{"s":35,"x":13.25,"y":0.12},{"s":35,"x":13.75,"y":0.08},{"s":35,"x":14.25,"y":0.07},{"s":35,"x":14.75,"y":0.10},{"s":35,"x":15.25,"y":0.08},{"s":35,"x":15.75,"y":0.06},{"s":35,"x":16.25,"y":0.09},{"s":35,"x":16.75,"y":0.07},{"s":35,"x":17.25,"y":0.08},{"s":35,"x":17.75,"y":0.06},{"s":35,"x":18.25,"y":0.035},{"s":35,"x":18.75,"y":0.03},{"s":35,"x":19.25,"y":0.025},{"s":35,"x":19.75,"y":0.02},{"s":35,"x":20,"y":0.02},
{"s":36,"x":1,"y":0.30},{"s":36,"x":1.25,"y":0.38},{"s":36,"x":1.75,"y":0.50},{"s":36,"x":2.25,"y":0.62},{"s":36,"x":2.75,"y":0.80},{"s":36,"x":3.25,"y":0.96},{"s":36,"x":3.75,"y":0.84},{"s":36,"x":4.25,"y":0.74},{"s":36,"x":4.75,"y":0.60},{"s":36,"x":5.25,"y":0.46},{"s":36,"x":5.75,"y":0.24},{"s":36,"x":6.25,"y":0.12},{"s":36,"x":6.75,"y":0.16},{"s":36,"x":7.25,"y":0.12},{"s":36,"x":7.75,"y":0.15},{"s":36,"x":8.25,"y":0.10},{"s":36,"x":8.75,"y":0.13},{"s":36,"x":9.25,"y":0.09},{"s":36,"x":9.75,"y":0.11},{"s":36,"x":10.25,"y":0.08},{"s":36,"x":10.75,"y":0.10},{"s":36,"x":11.25,"y":0.07},{"s":36,"x":11.75,"y":0.09},{"s":36,"x":12.25,"y":0.11},{"s":36,"x":12.75,"y":0.08},{"s":36,"x":13.25,"y":0.06},{"s":36,"x":13.75,"y":0.09},{"s":36,"x":14.25,"y":0.07},{"s":36,"x":14.75,"y":0.05},{"s":36,"x":15.25,"y":0.08},{"s":36,"x":15.75,"y":0.06},{"s":36,"x":16.25,"y":0.07},{"s":36,"x":16.75,"y":0.05},{"s":36,"x":17.25,"y":0.07},{"s":36,"x":17.75,"y":0.05},{"s":36,"x":18.25,"y":0.03},{"s":36,"x":18.75,"y":0.025},{"s":36,"x":19.25,"y":0.02},{"s":36,"x":19.75,"y":0.02},{"s":36,"x":20,"y":0.02},
{"s":37,"x":1,"y":0.60},{"s":37,"x":1.25,"y":0.70},{"s":37,"x":1.75,"y":0.58},{"s":37,"x":2.25,"y":0.66},{"s":37,"x":2.75,"y":0.52},{"s":37,"x":3.25,"y":0.70},{"s":37,"x":3.75,"y":0.82},{"s":37,"x":4.25,"y":0.96},{"s":37,"x":4.75,"y":0.86},{"s":37,"x":5.25,"y":0.70},{"s":37,"x":5.75,"y":0.38},{"s":37,"x":6.25,"y":0.26},{"s":37,"x":6.75,"y":0.20},{"s":37,"x":7.25,"y":0.24},{"s":37,"x":7.75,"y":0.30},{"s":37,"x":8.25,"y":0.22},{"s":37,"x":8.75,"y":0.18},{"s":37,"x":9.25,"y":0.24},{"s":37,"x":9.75,"y":0.16},{"s":37,"x":10.25,"y":0.13},{"s":37,"x":10.75,"y":0.16},{"s":37,"x":11.25,"y":0.12},{"s":37,"x":11.75,"y":0.14},{"s":37,"x":12.25,"y":0.18},{"s":37,"x":12.75,"y":0.12},{"s":37,"x":13.25,"y":0.10},{"s":37,"x":13.75,"y":0.13},{"s":37,"x":14.25,"y":0.11},{"s":37,"x":14.75,"y":0.09},{"s":37,"x":15.25,"y":0.12},{"s":37,"x":15.75,"y":0.10},{"s":37,"x":16.25,"y":0.13},{"s":37,"x":16.75,"y":0.11},{"s":37,"x":17.25,"y":0.09},{"s":37,"x":17.75,"y":0.12},{"s":37,"x":18.25,"y":0.07},{"s":37,"x":18.75,"y":0.06},{"s":37,"x":19.25,"y":0.05},{"s":37,"x":19.75,"y":0.05},{"s":37,"x":20,"y":0.045},
{"s":38,"x":1,"y":0.12},{"s":38,"x":1.25,"y":0.16},{"s":38,"x":1.75,"y":0.14},{"s":38,"x":2.25,"y":0.20},{"s":38,"x":2.75,"y":0.28},{"s":38,"x":3.25,"y":0.40},{"s":38,"x":3.75,"y":0.56},{"s":38,"x":4.25,"y":0.70},{"s":38,"x":4.75,"y":0.62},{"s":38,"x":5.25,"y":0.48},{"s":38,"x":5.75,"y":0.20},{"s":38,"x":6.25,"y":0.08},{"s":38,"x":6.75,"y":0.11},{"s":38,"x":7.25,"y":0.08},{"s":38,"x":7.75,"y":0.10},{"s":38,"x":8.25,"y":0.07},{"s":38,"x":8.75,"y":0.09},{"s":38,"x":9.25,"y":0.06},{"s":38,"x":9.75,"y":0.08},{"s":38,"x":10.25,"y":0.05},{"s":38,"x":10.75,"y":0.07},{"s":38,"x":11.25,"y":0.06},{"s":38,"x":11.75,"y":0.08},{"s":38,"x":12.25,"y":0.05},{"s":38,"x":12.75,"y":0.07},{"s":38,"x":13.25,"y":0.06},{"s":38,"x":13.75,"y":0.05},{"s":38,"x":14.25,"y":0.07},{"s":38,"x":14.75,"y":0.05},{"s":38,"x":15.25,"y":0.06},{"s":38,"x":15.75,"y":0.04},{"s":38,"x":16.25,"y":0.06},{"s":38,"x":16.75,"y":0.05},{"s":38,"x":17.25,"y":0.04},{"s":38,"x":17.75,"y":0.05},{"s":38,"x":18.25,"y":0.025},{"s":38,"x":18.75,"y":0.02},{"s":38,"x":19.25,"y":0.02},{"s":38,"x":19.75,"y":0.015},{"s":38,"x":20,"y":0.015},
{"s":39,"x":1,"y":0.34},{"s":39,"x":1.25,"y":0.50},{"s":39,"x":1.75,"y":0.74},{"s":39,"x":2.25,"y":0.96},{"s":39,"x":2.75,"y":0.82},{"s":39,"x":3.25,"y":0.90},{"s":39,"x":3.75,"y":0.76},{"s":39,"x":4.25,"y":0.70},{"s":39,"x":4.75,"y":0.56},{"s":39,"x":5.25,"y":0.42},{"s":39,"x":5.75,"y":0.22},{"s":39,"x":6.25,"y":0.16},{"s":39,"x":6.75,"y":0.20},{"s":39,"x":7.25,"y":0.15},{"s":39,"x":7.75,"y":0.18},{"s":39,"x":8.25,"y":0.13},{"s":39,"x":8.75,"y":0.11},{"s":39,"x":9.25,"y":0.14},{"s":39,"x":9.75,"y":0.10},{"s":39,"x":10.25,"y":0.12},{"s":39,"x":10.75,"y":0.09},{"s":39,"x":11.25,"y":0.11},{"s":39,"x":11.75,"y":0.08},{"s":39,"x":12.25,"y":0.10},{"s":39,"x":12.75,"y":0.12},{"s":39,"x":13.25,"y":0.09},{"s":39,"x":13.75,"y":0.07},{"s":39,"x":14.25,"y":0.09},{"s":39,"x":14.75,"y":0.11},{"s":39,"x":15.25,"y":0.08},{"s":39,"x":15.75,"y":0.07},{"s":39,"x":16.25,"y":0.09},{"s":39,"x":16.75,"y":0.08},{"s":39,"x":17.25,"y":0.06},{"s":39,"x":17.75,"y":0.08},{"s":39,"x":18.25,"y":0.05},{"s":39,"x":18.75,"y":0.04},{"s":39,"x":19.25,"y":0.035},{"s":39,"x":19.75,"y":0.03},{"s":39,"x":20,"y":0.03},
{"s":40,"x":1,"y":0.16},{"s":40,"x":1.25,"y":0.22},{"s":40,"x":1.75,"y":0.28},{"s":40,"x":2.25,"y":0.24},{"s":40,"x":2.75,"y":0.36},{"s":40,"x":3.25,"y":0.48},{"s":40,"x":3.75,"y":0.62},{"s":40,"x":4.25,"y":0.80},{"s":40,"x":4.75,"y":0.88},{"s":40,"x":5.25,"y":1.02},{"s":40,"x":5.75,"y":0.56},{"s":40,"x":6.25,"y":0.26},{"s":40,"x":6.75,"y":0.30},{"s":40,"x":7.25,"y":0.22},{"s":40,"x":7.75,"y":0.26},{"s":40,"x":8.25,"y":0.20},{"s":40,"x":8.75,"y":0.17},{"s":40,"x":9.25,"y":0.21},{"s":40,"x":9.75,"y":0.15},{"s":40,"x":10.25,"y":0.18},{"s":40,"x":10.75,"y":0.14},{"s":40,"x":11.25,"y":0.12},{"s":40,"x":11.75,"y":0.15},{"s":40,"x":12.25,"y":0.11},{"s":40,"x":12.75,"y":0.13},{"s":40,"x":13.25,"y":0.16},{"s":40,"x":13.75,"y":0.12},{"s":40,"x":14.25,"y":0.10},{"s":40,"x":14.75,"y":0.13},{"s":40,"x":15.25,"y":0.11},{"s":40,"x":15.75,"y":0.14},{"s":40,"x":16.25,"y":0.10},{"s":40,"x":16.75,"y":0.12},{"s":40,"x":17.25,"y":0.15},{"s":40,"x":17.75,"y":0.11},{"s":40,"x":18.25,"y":0.07},{"s":40,"x":18.75,"y":0.06},{"s":40,"x":19.25,"y":0.05},{"s":40,"x":19.75,"y":0.05},{"s":40,"x":20,"y":0.045},
{"s":41,"x":1,"y":0.18},{"s":41,"x":1.25,"y":0.24},{"s":41,"x":1.75,"y":0.36},{"s":41,"x":2.25,"y":0.48},{"s":41,"x":2.75,"y":0.60},{"s":41,"x":3.25,"y":0.72},{"s":41,"x":3.75,"y":0.88},{"s":41,"x":4.25,"y":0.80},{"s":41,"x":4.75,"y":0.72},{"s":41,"x":5.25,"y":0.58},{"s":41,"x":5.75,"y":0.26},{"s":41,"x":6.25,"y":0.16},{"s":41,"x":6.75,"y":0.19},{"s":41,"x":7.25,"y":0.14},{"s":41,"x":7.75,"y":0.17},{"s":41,"x":8.25,"y":0.12},{"s":41,"x":8.75,"y":0.14},{"s":41,"x":9.25,"y":0.11},{"s":41,"x":9.75,"y":0.13},{"s":41,"x":10.25,"y":0.10},{"s":41,"x":10.75,"y":0.12},{"s":41,"x":11.25,"y":0.09},{"s":41,"x":11.75,"y":0.11},{"s":41,"x":12.25,"y":0.08},{"s":41,"x":12.75,"y":0.10},{"s":41,"x":13.25,"y":0.12},{"s":41,"x":13.75,"y":0.14},{"s":41,"x":14.25,"y":0.18},{"s":41,"x":14.75,"y":0.22},{"s":41,"x":15.25,"y":0.14},{"s":41,"x":15.75,"y":0.10},{"s":41,"x":16.25,"y":0.08},{"s":41,"x":16.75,"y":0.11},{"s":41,"x":17.25,"y":0.09},{"s":41,"x":17.75,"y":0.08},{"s":41,"x":18.25,"y":0.05},{"s":41,"x":18.75,"y":0.04},{"s":41,"x":19.25,"y":0.035},{"s":41,"x":19.75,"y":0.03},{"s":41,"x":20,"y":0.03},
{"s":42,"x":1,"y":0.22},{"s":42,"x":1.25,"y":0.28},{"s":42,"x":1.75,"y":0.42},{"s":42,"x":2.25,"y":0.60},{"s":42,"x":2.75,"y":0.84},{"s":42,"x":3.25,"y":1.03},{"s":42,"x":3.75,"y":0.80},{"s":42,"x":4.25,"y":0.70},{"s":42,"x":4.75,"y":0.90},{"s":42,"x":5.25,"y":0.72},{"s":42,"x":5.75,"y":0.30},{"s":42,"x":6.25,"y":0.20},{"s":42,"x":6.75,"y":0.24},{"s":42,"x":7.25,"y":0.19},{"s":42,"x":7.75,"y":0.16},{"s":42,"x":8.25,"y":0.20},{"s":42,"x":8.75,"y":0.15},{"s":42,"x":9.25,"y":0.12},{"s":42,"x":9.75,"y":0.16},{"s":42,"x":10.25,"y":0.12},{"s":42,"x":10.75,"y":0.14},{"s":42,"x":11.25,"y":0.11},{"s":42,"x":11.75,"y":0.13},{"s":42,"x":12.25,"y":0.10},{"s":42,"x":12.75,"y":0.12},{"s":42,"x":13.25,"y":0.09},{"s":42,"x":13.75,"y":0.11},{"s":42,"x":14.25,"y":0.14},{"s":42,"x":14.75,"y":0.10},{"s":42,"x":15.25,"y":0.08},{"s":42,"x":15.75,"y":0.11},{"s":42,"x":16.25,"y":0.13},{"s":42,"x":16.75,"y":0.09},{"s":42,"x":17.25,"y":0.12},{"s":42,"x":17.75,"y":0.10},{"s":42,"x":18.25,"y":0.06},{"s":42,"x":18.75,"y":0.05},{"s":42,"x":19.25,"y":0.04},{"s":42,"x":19.75,"y":0.04},{"s":42,"x":20,"y":0.035},
{"s":43,"x":1,"y":0.06},{"s":43,"x":1.25,"y":0.09},{"s":43,"x":1.75,"y":0.16},{"s":43,"x":2.25,"y":0.24},{"s":43,"x":2.75,"y":0.34},{"s":43,"x":3.25,"y":0.50},{"s":43,"x":3.75,"y":0.68},{"s":43,"x":4.25,"y":0.84},{"s":43,"x":4.75,"y":0.76},{"s":43,"x":5.25,"y":0.54},{"s":43,"x":5.75,"y":0.18},{"s":43,"x":6.25,"y":0.10},{"s":43,"x":6.75,"y":0.13},{"s":43,"x":7.25,"y":0.10},{"s":43,"x":7.75,"y":0.12},{"s":43,"x":8.25,"y":0.09},{"s":43,"x":8.75,"y":0.11},{"s":43,"x":9.25,"y":0.08},{"s":43,"x":9.75,"y":0.10},{"s":43,"x":10.25,"y":0.07},{"s":43,"x":10.75,"y":0.09},{"s":43,"x":11.25,"y":0.08},{"s":43,"x":11.75,"y":0.10},{"s":43,"x":12.25,"y":0.07},{"s":43,"x":12.75,"y":0.09},{"s":43,"x":13.25,"y":0.11},{"s":43,"x":13.75,"y":0.08},{"s":43,"x":14.25,"y":0.10},{"s":43,"x":14.75,"y":0.12},{"s":43,"x":15.25,"y":0.09},{"s":43,"x":15.75,"y":0.13},{"s":43,"x":16.25,"y":0.20},{"s":43,"x":16.75,"y":0.12},{"s":43,"x":17.25,"y":0.22},{"s":43,"x":17.75,"y":0.14},{"s":43,"x":18.25,"y":0.06},{"s":43,"x":18.75,"y":0.04},{"s":43,"x":19.25,"y":0.035},{"s":43,"x":19.75,"y":0.03},{"s":43,"x":20,"y":0.03},
{"s":44,"x":1,"y":0.52},{"s":44,"x":1.25,"y":0.95},{"s":44,"x":1.75,"y":0.70},{"s":44,"x":2.25,"y":0.60},{"s":44,"x":2.75,"y":0.68},{"s":44,"x":3.25,"y":0.56},{"s":44,"x":3.75,"y":0.64},{"s":44,"x":4.25,"y":0.58},{"s":44,"x":4.75,"y":0.50},{"s":44,"x":5.25,"y":0.40},{"s":44,"x":5.75,"y":0.24},{"s":44,"x":6.25,"y":0.18},{"s":44,"x":6.75,"y":0.14},{"s":44,"x":7.25,"y":0.18},{"s":44,"x":7.75,"y":0.14},{"s":44,"x":8.25,"y":0.11},{"s":44,"x":8.75,"y":0.15},{"s":44,"x":9.25,"y":0.12},{"s":44,"x":9.75,"y":0.10},{"s":44,"x":10.25,"y":0.13},{"s":44,"x":10.75,"y":0.10},{"s":44,"x":11.25,"y":0.12},{"s":44,"x":11.75,"y":0.09},{"s":44,"x":12.25,"y":0.11},{"s":44,"x":12.75,"y":0.08},{"s":44,"x":13.25,"y":0.10},{"s":44,"x":13.75,"y":0.09},{"s":44,"x":14.25,"y":0.12},{"s":44,"x":14.75,"y":0.08},{"s":44,"x":15.25,"y":0.10},{"s":44,"x":15.75,"y":0.08},{"s":44,"x":16.25,"y":0.10},{"s":44,"x":16.75,"y":0.11},{"s":44,"x":17.25,"y":0.08},{"s":44,"x":17.75,"y":0.07},{"s":44,"x":18.25,"y":0.05},{"s":44,"x":18.75,"y":0.04},{"s":44,"x":19.25,"y":0.035},{"s":44,"x":19.75,"y":0.03},{"s":44,"x":20,"y":0.03}
],
"black": [
{"s":"A","x":1.0,"y":0.12},{"s":"A","x":1.35,"y":0.24},{"s":"A","x":1.7,"y":0.32},{"s":"A","x":2.09,"y":0.43},{"s":"A","x":2.34,"y":0.365},{"s":"A","x":2.75,"y":0.425},{"s":"A","x":2.97,"y":0.42},{"s":"A","x":3.4,"y":0.48},{"s":"A","x":3.6,"y":0.70},{"s":"A","x":3.85,"y":0.85},{"s":"A","x":4.16,"y":0.915},{"s":"A","x":4.35,"y":0.86},{"s":"A","x":4.6,"y":0.774},{"s":"A","x":4.8,"y":0.84},{"s":"A","x":5.0,"y":0.88},{"s":"A","x":5.15,"y":0.82},{"s":"A","x":5.4,"y":0.706},{"s":"A","x":5.7,"y":0.496},{"s":"A","x":5.9,"y":0.30},{"s":"A","x":6.1,"y":0.255},{"s":"A","x":6.4,"y":0.25},{"s":"A","x":6.7,"y":0.215},{"s":"A","x":7.0,"y":0.197},{"s":"A","x":7.3,"y":0.18},{"s":"A","x":7.9,"y":0.15},{"s":"A","x":8.2,"y":0.163},{"s":"A","x":8.5,"y":0.13},{"s":"A","x":9.0,"y":0.103},{"s":"A","x":9.4,"y":0.08},{"s":"A","x":9.75,"y":0.105},{"s":"A","x":10.1,"y":0.118},{"s":"A","x":10.47,"y":0.13},{"s":"A","x":10.8,"y":0.10},{"s":"A","x":11.4,"y":0.09},{"s":"A","x":12.0,"y":0.08},{"s":"A","x":12.4,"y":0.06},{"s":"A","x":12.9,"y":0.09},{"s":"A","x":13.4,"y":0.124},{"s":"A","x":13.8,"y":0.053},{"s":"A","x":14.2,"y":0.06},{"s":"A","x":14.6,"y":0.10},{"s":"A","x":15.06,"y":0.083},{"s":"A","x":15.5,"y":0.077},{"s":"A","x":15.8,"y":0.064},{"s":"A","x":16.2,"y":0.07},{"s":"A","x":16.7,"y":0.09},{"s":"A","x":17.0,"y":0.07},{"s":"A","x":17.45,"y":0.11},{"s":"A","x":17.9,"y":0.067},{"s":"A","x":18.4,"y":0.036},{"s":"A","x":19.0,"y":0.027},{"s":"A","x":19.5,"y":0.024},{"s":"A","x":20,"y":0.02},
{"s":"B","x":1.0,"y":0.40},{"s":"B","x":1.2,"y":0.70},{"s":"B","x":1.4,"y":0.84},{"s":"B","x":1.56,"y":0.866},{"s":"B","x":1.78,"y":0.775},{"s":"B","x":1.97,"y":0.745},{"s":"B","x":2.28,"y":0.88},{"s":"B","x":2.56,"y":0.837},{"s":"B","x":2.87,"y":0.88},{"s":"B","x":2.97,"y":0.87},{"s":"B","x":3.2,"y":0.757},{"s":"B","x":3.28,"y":0.727},{"s":"B","x":3.5,"y":0.80},{"s":"B","x":3.9,"y":0.84},{"s":"B","x":4.4,"y":0.72},{"s":"B","x":4.75,"y":0.68},{"s":"B","x":5.15,"y":0.617},{"s":"B","x":5.3,"y":0.565},{"s":"B","x":5.6,"y":0.45},{"s":"B","x":5.9,"y":0.30},{"s":"B","x":6.2,"y":0.18},{"s":"B","x":6.5,"y":0.234},{"s":"B","x":7.0,"y":0.276},{"s":"B","x":7.45,"y":0.25},{"s":"B","x":7.75,"y":0.18},{"s":"B","x":8.2,"y":0.19},{"s":"B","x":8.6,"y":0.15},{"s":"B","x":9.0,"y":0.13},{"s":"B","x":9.5,"y":0.11},{"s":"B","x":10,"y":0.12},{"s":"B","x":10.5,"y":0.105},{"s":"B","x":11,"y":0.115},{"s":"B","x":11.5,"y":0.10},{"s":"B","x":12,"y":0.11},{"s":"B","x":12.5,"y":0.09},{"s":"B","x":13,"y":0.10},{"s":"B","x":13.5,"y":0.09},{"s":"B","x":14,"y":0.095},{"s":"B","x":14.5,"y":0.085},{"s":"B","x":15,"y":0.09},{"s":"B","x":15.5,"y":0.08},{"s":"B","x":16,"y":0.085},{"s":"B","x":16.5,"y":0.09},{"s":"B","x":17,"y":0.08},{"s":"B","x":17.5,"y":0.085},{"s":"B","x":18,"y":0.06},{"s":"B","x":18.5,"y":0.04},{"s":"B","x":19,"y":0.035},{"s":"B","x":19.5,"y":0.03},{"s":"B","x":20,"y":0.03}
]
},
"layer": [
{
"data": {"name": "gray"},
"mark": {"type": "line", "strokeWidth": 1, "clip": true, "opacity": 0.9},
"encoding": {
"x": {"field": "x", "type": "quantitative", "scale": {"domain": [1, 20], "nice": false, "zero": false},
 "axis": {"orient": "bottom", "values": [5, 10, 15], "format": "d", "tickSize": -12, "tickColor": "#555", "tickWidth": 1.5, "domainColor": "#333", "domainWidth": 2, "grid": false, "labelFont": "Liberation Mono", "labelFontSize": 14, "labelColor": "#333", "labelPadding": 14, "title": "Частота", "titleFont": "Liberation Serif", "titleFontSize": 19, "titleFontWeight": "normal", "titleColor": "#111", "titleX": 291, "titleY": 27, "titleBaseline": "middle"}},
"y": {"field": "y", "type": "quantitative", "scale": {"domain": [0.007, 1], "nice": false, "zero": false},
 "axis": {"orient": "left", "values": [0.2, 0.4, 0.6, 0.8], "format": ".1f", "tickSize": -19, "tickColor": "#777", "tickWidth": 1, "domainColor": "#333", "domainWidth": 2, "grid": false, "labelFont": "Liberation Mono", "labelFontSize": 14, "labelColor": "#333", "labelPadding": 25, "title": "Нормированная амплитуда", "titleFont": "Liberation Serif", "titleFontSize": 21, "titleFontWeight": "normal", "titleColor": "#111", "titleX": -55, "titleY": 168, "titleBaseline": "middle"}},
"color": {"field": "s", "type": "nominal", "legend": null,
 "scale": {"range": ["#4a4a4a", "#7a7a7a", "#9a9a9a", "#606060", "#a8a8a8", "#858585", "#555555", "#909090", "#6c6c6c", "#b0b0b0"]}}
}
},
{
"data": {"name": "black"},
"mark": {"type": "line", "strokeWidth": 1.8, "clip": true, "color": "#111"},
"encoding": {
"x": {"field": "x", "type": "quantitative", "scale": {"domain": [1, 20], "nice": false, "zero": false},
 "axis": {"orient": "top", "values": [5, 10, 15], "format": "d", "tickSize": -12, "tickColor": "#555", "tickWidth": 1.5, "domainColor": "#555", "domainWidth": 2, "grid": false, "labelFont": "Liberation Mono", "labelFontSize": 14, "labelColor": "#333", "labelPadding": 16, "title": null}},
"y": {"field": "y", "type": "quantitative", "scale": {"domain": [0.007, 1], "nice": false, "zero": false},
 "axis": {"orient": "right", "values": [0.2, 0.4, 0.6, 0.8], "format": ".1f", "tickSize": -17, "tickColor": "#777", "tickWidth": 1, "domainColor": "#999", "domainWidth": 1, "grid": false, "labelFont": "Liberation Mono", "labelFontSize": 14, "labelColor": "#333", "labelPadding": 25, "title": null}},
"detail": {"field": "s", "type": "nominal"}
}
}
],
"resolve": {"axis": {"x": "independent", "y": "independent"}}
}
